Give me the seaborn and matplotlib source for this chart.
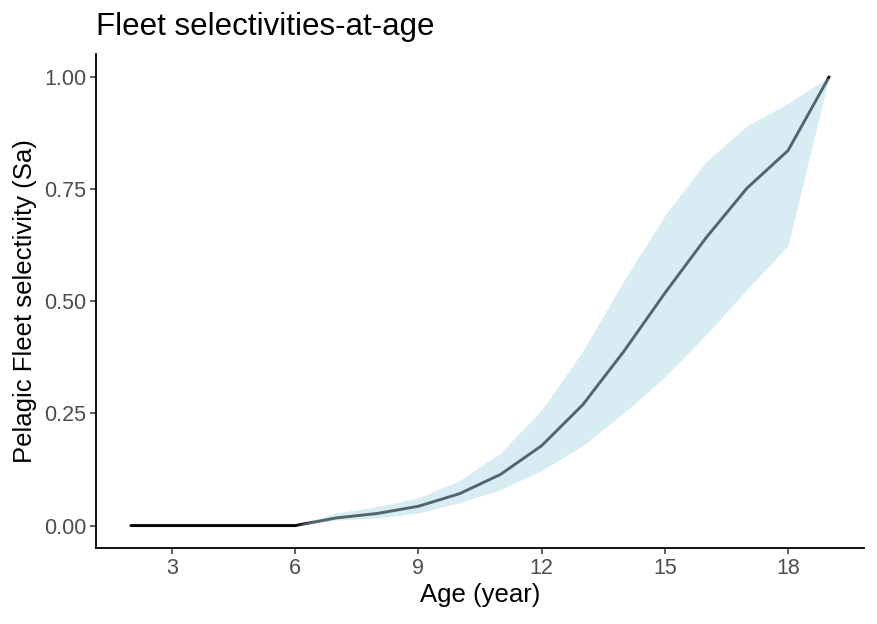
import numpy as np
import pandas as pd
import matplotlib
matplotlib.use("Agg")
import matplotlib.pyplot as plt
import seaborn as sns

# Data
ages = list(range(2, 20))
sel = [0, 0, 0, 0, 0, 0.017, 0.027, 0.043, 0.071, 0.114, 0.178, 0.269,
       0.388, 0.518, 0.641, 0.752, 0.836, 1.0]

band_ages = list(range(6, 20))
band_lo = [0, 0.012, 0.017, 0.028, 0.051, 0.080, 0.123, 0.178, 0.251,
           0.331, 0.425, 0.526, 0.624, 1.0]
band_hi = [0, 0.028, 0.042, 0.062, 0.100, 0.162, 0.258, 0.388, 0.546,
           0.691, 0.811, 0.891, 0.941, 1.0]

df = pd.DataFrame({"age": ages, "sel": sel})

sns.set_style("white")
plt.rcParams["font.family"] = ["Liberation Sans", "DejaVu Sans"]
plt.rcParams["text.color"] = "black"
plt.rcParams["axes.labelcolor"] = "black"

fig = plt.figure(figsize=(8.77, 6.24), dpi=100)
ax = fig.add_axes([96 / 877, 1 - 548 / 624, (864 - 96) / 877, (548 - 54.5) / 624])

sns.lineplot(data=df, x="age", y="sel", color="black", linewidth=2.1, ax=ax, zorder=2)
ax.fill_between(band_ages, band_lo, band_hi, color="lightblue", alpha=0.48,
                linewidth=0, zorder=3)

ax.set_xlim(2 - 0.85, 19 + 0.85)
ax.set_ylim(-0.05, 1.05)
ax.set_xticks([3, 6, 9, 12, 15, 18])
ax.set_yticks([0, 0.25, 0.5, 0.75, 1.0])
ax.set_yticklabels(["0.00", "0.25", "0.50", "0.75", "1.00"])

for s in ["top", "right"]:
    ax.spines[s].set_visible(False)
for s in ["bottom", "left"]:
    ax.spines[s].set_color("black")
    ax.spines[s].set_linewidth(1.3)

ax.tick_params(axis="both", which="major", direction="out", length=4, width=1.1,
               color="#333333", labelcolor="#4D4D4D", labelsize=15.5, pad=3,
               bottom=True, left=True)

ax.set_xlabel("Age (year)", fontsize=18.5, labelpad=3)
ax.set_ylabel("Pelagic Fleet selectivity (Sa)", fontsize=18.5, labelpad=5)
fig.text(96 / 877, 1 - 27 / 624, "Fleet selectivities-at-age", fontsize=22.5,
         ha="left", va="center")

fig.savefig("out.png", dpi=100)
